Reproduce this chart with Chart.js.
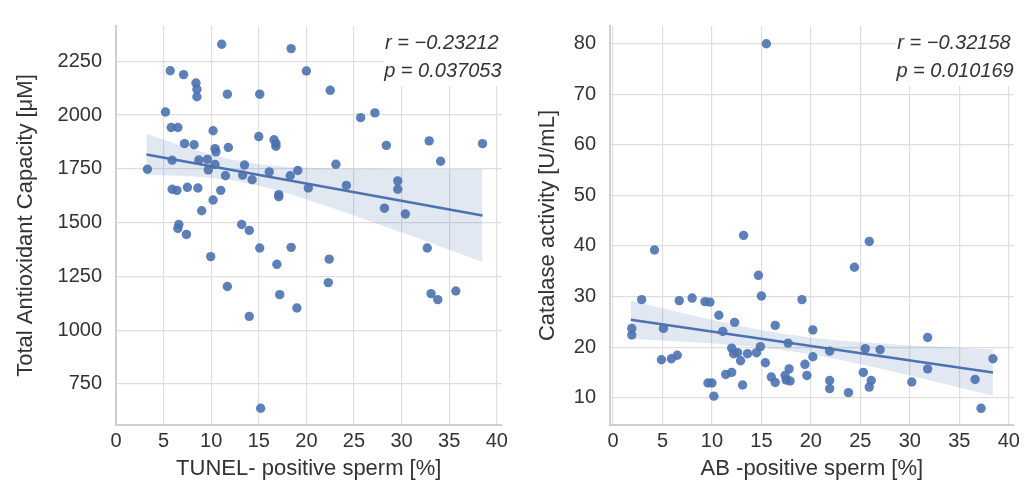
<!DOCTYPE html>
<html>
<head>
<meta charset="utf-8">
<script src="https://cdn.jsdelivr.net/npm/chart.js@4.4.0/dist/chart.umd.min.js"></script>
<style>
  html, body { margin: 0; padding: 0; background: #fff; }
  #wrap { position: relative; width: 1024px; height: 484px; }
  canvas { position: absolute; top: 0; }
  #left { left: 0; }
  #right { left: 512px; }
</style>
</head>
<body>
<div id="wrap">
  <canvas id="left" width="512" height="484"></canvas>
  <canvas id="right" width="512" height="484"></canvas>
</div>
<script>
// tick labels
const xTicks = [0, 5, 10, 15, 20, 25, 30, 35, 40];
const tacTicks = [750, 1000, 1250, 1500, 1750, 2000, 2250];
const catTicks = [10, 20, 30, 40, 50, 60, 70, 80];

// left panel: TUNEL-positive sperm vs total antioxidant capacity
const tunelX = [11.1, 18.4, 5.7, 7.1, 8.4, 8.5, 8.5, 11.7, 15.1, 20.0,
  22.5, 5.2, 25.7, 27.2, 5.8, 6.5, 10.2, 15.0, 16.6, 16.8,
  16.8, 7.2, 8.2, 10.4, 10.5, 11.8, 28.4, 32.9, 38.5, 34.1,
  3.3, 5.9, 8.7, 9.6, 9.7, 10.4, 11.5, 13.3, 13.5, 14.3,
  16.1, 18.3, 19.1, 17.1, 17.1, 20.2, 23.1, 24.2, 29.6, 29.6,
  28.2, 30.4, 5.9, 6.4, 7.5, 8.6, 11.0, 10.2, 9.0, 6.6,
  6.5, 7.4, 13.2, 14.0, 15.1, 18.4, 9.95, 16.9, 22.4, 32.7,
  11.7, 22.3, 17.2, 19.0, 14.0, 33.1, 33.8, 35.7, 15.2];
const tacY = [2329, 2309, 2206, 2188, 2149, 2120, 2085, 2097, 2097, 2205,
  2115, 2014, 1988, 2010, 1942, 1942, 1927, 1900, 1885, 1867,
  1855, 1867, 1862, 1844, 1829, 1849, 1859, 1880, 1867, 1785,
  1748, 1790, 1791, 1794, 1745, 1770, 1718, 1721, 1768, 1699,
  1736, 1718, 1742, 1630, 1620, 1661, 1771, 1673, 1694, 1655,
  1567, 1540, 1655, 1650, 1664, 1661, 1650, 1605, 1555, 1491,
  1473, 1445, 1491, 1464, 1382, 1385, 1342, 1306, 1330, 1382,
  1203, 1221, 1165, 1103, 1064, 1170, 1142, 1182, 637];
const tacFitX = [3.2, 38.5];
const tacFitY = [1817, 1533];
const tacBandX = [3.2, 6, 9, 12, 15, 18, 21, 24, 27, 30, 33, 36, 38.5];
const tacBandUp = [1913, 1871, 1829, 1794, 1771, 1759, 1754, 1751, 1750, 1749, 1748, 1749, 1749];
const tacBandLo = [1721, 1719, 1712, 1698, 1673, 1637, 1594, 1549, 1502, 1454, 1406, 1357, 1317];

// right panel: AB-positive sperm vs catalase activity
const abX = [1.9, 1.9, 2.9, 4.2, 5.1, 4.9, 5.9, 6.5, 6.7, 8.0,
  9.3, 9.8, 9.6, 10.0, 10.2, 10.7, 11.1, 11.4, 12.0, 12.0,
  12.3, 12.2, 12.6, 12.9, 13.2, 13.1, 13.6, 14.5, 14.7, 15.0,
  14.9, 15.4, 16.0, 16.4, 16.4, 17.4, 17.5, 17.9, 17.8, 17.7,
  19.1, 19.4, 19.6, 20.2, 20.2, 21.9, 21.9, 21.9, 23.8, 24.4,
  25.3, 25.5, 25.9, 26.1, 25.9, 27.0, 30.2, 31.8, 31.8, 36.6,
  37.2, 38.4, 15.5];
const catY = [23.7, 22.4, 29.4, 39.2, 23.7, 17.5, 17.7, 18.4, 29.2, 29.7,
  29.0, 28.9, 12.9, 12.9, 10.3, 26.3, 23.1, 14.6, 15.0, 19.8,
  24.9, 18.7, 18.9, 17.3, 42.1, 12.5, 18.7, 18.9, 34.2, 30.1,
  20.1, 16.9, 14.1, 24.3, 13.0, 14.4, 13.5, 13.3, 15.7, 20.8,
  29.4, 16.6, 14.4, 23.4, 18.1, 19.2, 13.4, 11.8, 11.0, 35.8,
  15.0, 19.7, 40.9, 13.4, 12.1, 19.5, 13.1, 21.9, 15.7, 13.6,
  7.9, 17.7, 80.0];
const catFitX = [1.8, 38.4];
const catFitY = [25.4, 15.0];
const catBandX = [1.8, 5, 8, 11, 14, 17, 20, 23, 26, 29, 32, 35, 38.4];
const catBandUp = [29.2, 27.69, 26.3, 24.98, 23.75, 22.7, 21.88, 21.28, 20.84, 20.49, 20.18, 19.89, 19.6];
const catBandLo = [21.6, 21.29, 20.98, 20.6, 20.11, 19.46, 18.58, 17.46, 16.2, 14.85, 13.46, 12.03, 10.4];

const blue = '#4c72b0';
const gridColor = '#dedede';
const textColor = '#333333';
const fontFamily = '"Liberation Sans", Arial, sans-serif';

function pairs(xs, ys) {
    return xs.map((x, i) => ({ x: x, y: ys[i] }));
}

// white box with r and p values in the top right corner
const statsBox = {
    id: 'statsBox',
    beforeDatasetsDraw(chart, args, opts) {
        const ctx = chart.ctx;
        const area = chart.chartArea;
        ctx.save();
        ctx.fillStyle = '#ffffff';
        ctx.fillRect(area.right - opts.boxWidth, area.top, opts.boxWidth, 60);
        ctx.fillStyle = textColor;
        ctx.font = 'italic 20px ' + fontFamily;
        ctx.textAlign = 'right';
        ctx.textBaseline = 'middle';
        ctx.fillText(opts.lines[0], area.right - 3, area.top + 17);
        ctx.fillText(opts.lines[1], area.right, area.top + 45);
        ctx.restore();
    }
};

function makeChart(id, cfg) {
    return new Chart(document.getElementById(id).getContext('2d'), {
        type: 'scatter',
        data: {
            datasets: [
                {
                    data: pairs(cfg.bandX, cfg.bandLo),
                    showLine: true, pointRadius: 0, borderWidth: 0,
                    borderColor: 'rgba(0,0,0,0)', order: 3
                },
                {
                    data: pairs(cfg.bandX, cfg.bandUp),
                    showLine: true, pointRadius: 0, borderWidth: 0,
                    borderColor: 'rgba(0,0,0,0)',
                    fill: '-1', backgroundColor: 'rgba(76,114,176,0.16)', order: 2
                },
                {
                    data: pairs(cfg.fitX, cfg.fitY),
                    showLine: true, pointRadius: 0, borderWidth: 2.5,
                    borderColor: blue, order: 1
                },
                {
                    data: pairs(cfg.x, cfg.y),
                    pointRadius: 4.7, pointBackgroundColor: 'rgba(76,114,176,0.9)',
                    pointBorderWidth: 0, order: 0
                }
            ]
        },
        options: {
            responsive: false,
            animation: false,
            layout: { padding: { top: 17, right: 9, left: 0, bottom: 0 } },
            plugins: {
                legend: { display: false },
                tooltip: { enabled: false },
                statsBox: { lines: cfg.stats, boxWidth: 118 }
            },
            scales: {
                x: {
                    type: 'linear',
                    min: cfg.xMin, max: cfg.xMax,
                    afterBuildTicks: s => { s.ticks = xTicks.map(v => ({ value: v })); },
                    afterFit: s => { s.height = 59; },
                    grid: { color: gridColor, lineWidth: 1.2, drawTicks: false },
                    border: { color: '#cfcfcf', width: 2 },
                    ticks: {
                        color: textColor, font: { family: fontFamily, size: 20 }, padding: 4, maxRotation: 0,
                        callback: v => String(v)
                    },
                    title: {
                        display: true, text: cfg.xTitle, color: textColor,
                        font: { family: fontFamily, size: 22 }, padding: { top: 0, bottom: 2 }
                    }
                },
                y: {
                    min: cfg.yMin, max: cfg.yMax,
                    afterBuildTicks: s => { s.ticks = cfg.yTicks.map(v => ({ value: v })); },
                    afterFit: s => { s.width = cfg.yWidth; },
                    grid: { color: gridColor, lineWidth: 1.2, drawTicks: false },
                    border: { color: '#cfcfcf', width: 2 },
                    ticks: {
                        color: textColor, font: { family: fontFamily, size: 20 }, padding: 14,
                        callback: v => String(v)
                    },
                    title: {
                        display: true, text: cfg.yTitle, color: textColor,
                        font: { family: fontFamily, size: 22 }, padding: { top: cfg.yTitlePad, bottom: 0 }
                    }
                }
            }
        },
        plugins: [statsBox]
    });
}

makeChart('left', {
    x: tunelX, y: tacY,
    fitX: tacFitX, fitY: tacFitY,
    bandX: tacBandX, bandUp: tacBandUp, bandLo: tacBandLo,
    xMin: 0, xMax: 40.5, yMin: 559, yMax: 2414, yTicks: tacTicks,
    yWidth: 116, yTitlePad: 13,
    xTitle: 'TUNEL- positive sperm [%]',
    yTitle: 'Total Antioxidant Capacity [\u03bcM]',
    stats: ['r = \u22120.23212', 'p = 0.037053']
});

makeChart('right', {
    x: abX, y: catY,
    fitX: catFitX, fitY: catFitY,
    bandX: catBandX, bandUp: catBandUp, bandLo: catBandLo,
    xMin: -0.3, xMax: 40.5, yMin: 4.6, yMax: 83.5, yTicks: catTicks,
    yWidth: 98, yTitlePad: 23,
    xTitle: 'AB -positive sperm [%]',
    yTitle: 'Catalase activity [U/mL]',
    stats: ['r = \u22120.32158', 'p = 0.010169']
});
</script>
</body>
</html>
